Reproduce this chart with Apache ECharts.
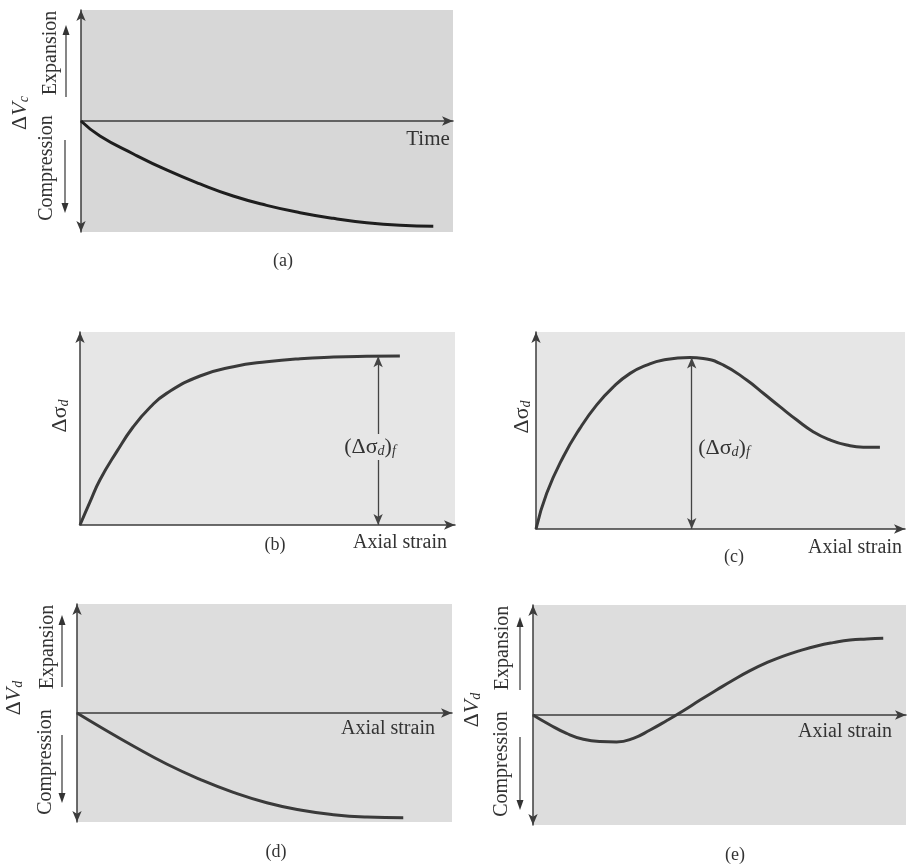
<!DOCTYPE html>
<html>
<head>
<meta charset="utf-8">
<script src="https://cdn.jsdelivr.net/npm/echarts@6/dist/echarts.min.js"></script>
<style>
  html, body { margin: 0; padding: 0; background: #fff; }
  #main { width: 908px; height: 864px; }
</style>
</head>
<body>
<div id="main"></div>
<script>
// (a) volume change during consolidation vs time
const aTime = [0, 0.51, 1.41, 2.30, 3.20, 4.09, 4.99, 5.89, 6.78, 7.68, 8.58, 9.47];
const aDv = [0, -0.135, -0.297, -0.441, -0.567, -0.676, -0.76, -0.826, -0.877, -0.916, -0.94, -0.949];

// (b) loose sand: deviator stress vs axial strain
const bStrain = [0, 0.27, 0.53, 0.98, 1.42, 1.87, 2.31, 3.2, 4.09, 4.98, 5.87, 6.76, 7.64, 8.53];
const bStress = [0, 0.121, 0.233, 0.38, 0.509, 0.61, 0.682, 0.772, 0.82, 0.846, 0.862, 0.87, 0.874, 0.876];
const bFail = [7.95, 0.875];

// (c) dense sand: deviator stress vs axial strain
const cStrain = [0, 0.29, 0.74, 1.19, 1.64, 2.10, 2.55, 3.0, 3.45, 4.17, 4.53, 5.08, 5.71, 6.16, 6.61, 7.07, 7.51, 7.97, 8.42, 8.87, 9.32];
const cStress = [0, 0.181, 0.367, 0.511, 0.629, 0.722, 0.79, 0.832, 0.858, 0.871, 0.866, 0.832, 0.756, 0.689, 0.621, 0.553, 0.494, 0.452, 0.426, 0.415, 0.415];
const cFail = [4.22, 0.87];

// (d) loose sand: volume change vs axial strain
const dStrain = [0, 0.61, 1.50, 2.39, 3.28, 4.17, 5.06, 5.95, 6.84, 7.73, 8.70];
const dDv = [0, -0.126, -0.303, -0.468, -0.609, -0.728, -0.823, -0.89, -0.933, -0.954, -0.96];

// (e) dense sand: volume change vs axial strain
const eStrain = [0, 0.46, 0.90, 1.35, 1.80, 2.24, 2.69, 3.14, 3.58, 4.03, 4.48, 4.92, 5.37, 5.82, 6.27, 6.71, 7.16, 7.61, 8.05, 8.50, 8.95, 9.39];
const eDv = [0, -0.091, -0.167, -0.221, -0.242, -0.245, -0.212, -0.136, -0.052, 0.039, 0.136, 0.227, 0.318, 0.403, 0.476, 0.536, 0.585, 0.627, 0.658, 0.682, 0.691, 0.697];

const panelNames = ['(a)', '(b)', '(c)', '(d)', '(e)'];

const serif = '"Liberation Serif", "DejaVu Serif", serif';
const ink = '#333';
const axisColor = '#3c3c3c';

const pairs = (xs, ys) => xs.map((x, i) => [x, ys[i]]);

const grids = [
  { left: 81, top: 10, width: 372, height: 222, bg: '#d7d7d7' },
  { left: 80, top: 332, width: 375, height: 193, bg: '#e6e6e6' },
  { left: 536, top: 332, width: 369, height: 197, bg: '#e6e6e6' },
  { left: 77, top: 604, width: 375, height: 218, bg: '#dddddd' },
  { left: 533, top: 605, width: 373, height: 220, bg: '#dddddd' }
];
const twoSided = [true, false, false, true, true];

const myChart = echarts.init(document.getElementById('main'));

const xAxis = grids.map((g, i) => ({
  type: 'value', gridIndex: i, min: 0, max: 10,
  axisLine: { onZero: true, symbol: ['none', 'arrow'], symbolSize: [7, 11],
    lineStyle: { color: axisColor, width: 1.5 } },
  axisTick: { show: false }, axisLabel: { show: false }, splitLine: { show: false }
}));
const yAxis = grids.map((g, i) => ({
  type: 'value', gridIndex: i, min: twoSided[i] ? -1 : 0, max: 1,
  axisLine: { show: true, onZero: false,
    symbol: twoSided[i] ? ['arrow', 'arrow'] : ['none', 'arrow'], symbolSize: [7, 11],
    lineStyle: { color: axisColor, width: 1.5 } },
  axisTick: { show: false }, axisLabel: { show: false }, splitLine: { show: false }
}));

const curve = (i, data, color, extra) => Object.assign({
  type: 'line', xAxisIndex: i, yAxisIndex: i, data: data,
  smooth: 0.5, showSymbol: false, silent: true,
  lineStyle: { color: color, width: 3 }
}, extra || {});

const failLine = (pt) => ({
  markLine: {
    silent: true, symbol: ['arrow', 'arrow'], symbolSize: [7, 11],
    label: { show: false },
    lineStyle: { color: '#444', width: 1.3, type: 'solid' },
    data: [[{ coord: [pt[0], 0] }, { coord: [pt[0], pt[1]] }]]
  }
});

const series = [
  curve(0, pairs(aTime, aDv), '#1e1e1e'),
  curve(1, pairs(bStrain, bStress), '#3a3a3a', failLine(bFail)),
  curve(2, pairs(cStrain, cStress), '#3a3a3a', failLine(cFail)),
  curve(3, pairs(dStrain, dDv), '#3a3a3a'),
  curve(4, pairs(eStrain, eDv), '#3a3a3a')
];

// text helpers
const txt = (x, y, text, size, opts) => Object.assign({
  type: 'text', x: x, y: y, z: 100,
  style: Object.assign({ text: text, fill: ink, font: size + 'px ' + serif,
    align: 'center', verticalAlign: 'middle' }, (opts && opts.style) || {})
}, opts && opts.rotation ? { rotation: opts.rotation } : {});
const vtxt = (x, y, text, size, style) => txt(x, y, text, size, { rotation: Math.PI / 2, style: style });

const subRich = {
  n: { fontSize: 22, fontFamily: serif, fill: ink },
  i: { fontSize: 22, fontFamily: serif, fontStyle: 'italic', fill: ink },
  s: { fontSize: 14, fontFamily: serif, fontStyle: 'italic', fill: ink, verticalAlign: 'bottom', padding: [8, 0, 0, 0] }
};

// small arrows beside the Expansion / Compression labels
const arrow = (x, y1, y2) => {
  const dir = y2 < y1 ? -1 : 1;
  return [
    { type: 'line', z: 100, shape: { x1: x, y1: y1, x2: x, y2: y2 - dir * 6 },
      style: { stroke: '#444', lineWidth: 1.3 } },
    { type: 'polygon', z: 100, shape: { points: [[x, y2], [x - 3.5, y2 - dir * 10], [x + 3.5, y2 - dir * 10]] },
      style: { fill: '#333' } }
  ];
};

const failLabel = (x, y, bg) => ({
  type: 'text', x: x, y: y, z: 100,
  style: {
    text: '{n|(Δσ}{s|d}{n|)}{s|f}', align: 'center', verticalAlign: 'middle',
    backgroundColor: bg, padding: [2, 1],
    rich: {
      n: { fontSize: 22, fontFamily: serif, fill: ink },
      s: { fontSize: 14, fontFamily: serif, fontStyle: 'italic', fill: ink, verticalAlign: 'bottom', padding: [8, 0, 0, 0] }
    }
  }
});

const graphic = [
  // (a)
  vtxt(51, 53, 'Expansion', 20),
  vtxt(47, 168, 'Compression', 20),
  vtxt(20, 113, '{n|Δ}{i|V}{s|c}', 22, { rich: subRich }),
  ...arrow(66, 97, 25),
  ...arrow(65, 140, 213),
  txt(428, 139, 'Time', 21),
  txt(283, 261, panelNames[0], 18),
  // (b)
  vtxt(60, 416, '{n|Δσ}{s|d}', 20, { rich: subRich }),
  failLabel(370, 447, '#e6e6e6'),
  txt(400, 543, 'Axial strain', 20),
  txt(275, 545, panelNames[1], 18),
  // (c)
  vtxt(522, 417, '{n|Δσ}{s|d}', 20, { rich: subRich }),
  failLabel(724, 448, '#e6e6e6'),
  txt(855, 548, 'Axial strain', 20),
  txt(734, 557, panelNames[2], 18),
  // (d)
  vtxt(48, 647, 'Expansion', 20),
  vtxt(46, 762, 'Compression', 20),
  vtxt(14, 698, '{n|Δ}{i|V}{s|d}', 22, { rich: subRich }),
  ...arrow(62, 687, 615),
  ...arrow(62, 735, 803),
  txt(388, 729, 'Axial strain', 20),
  txt(276, 852, panelNames[3], 18),
  // (e)
  vtxt(503, 648, 'Expansion', 20),
  vtxt(502, 764, 'Compression', 20),
  vtxt(472, 710, '{n|Δ}{i|V}{s|d}', 22, { rich: subRich }),
  ...arrow(520, 690, 617),
  ...arrow(520, 737, 810),
  txt(845, 732, 'Axial strain', 20),
  txt(735, 855, panelNames[4], 18)
];

const option = {
  animation: false,
  backgroundColor: '#ffffff',
  grid: grids.map(g => ({ left: g.left, top: g.top, width: g.width, height: g.height,
    show: true, backgroundColor: g.bg, borderWidth: 0 })),
  xAxis: xAxis,
  yAxis: yAxis,
  series: series,
  graphic: graphic
};

myChart.setOption(option);
</script>
</body>
</html>
